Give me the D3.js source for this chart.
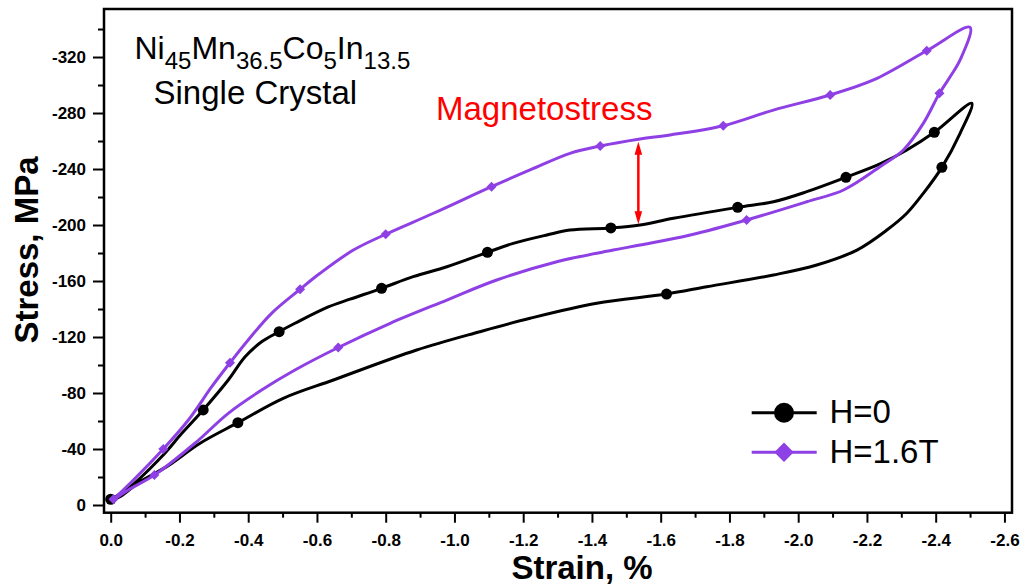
<!DOCTYPE html>
<html>
<head>
<meta charset="utf-8">
<script src="https://cdn.jsdelivr.net/npm/d3@7"></script>
<style>
  body { margin: 0; background: #fff; }
  svg { display: block; font-family: "Liberation Sans", Arial, sans-serif; }
</style>
</head>
<body>
<div id="chart"></div>
<script>
"use strict";

// H=0 loop: loading branch then unloading branch
const h0Strain = [0.00, -0.051, -0.148, -0.207, -0.269, -0.342, -0.391, -0.439, -0.490, -0.536, -0.633, -0.696,
  -0.788, -0.880, -0.978, -1.096, -1.171, -1.269, -1.336, -1.455, -1.540, -1.637, -1.824, -1.928, -2.025,
  -2.139, -2.238, -2.316, -2.396, -2.505,
  -2.471, -2.418, -2.364, -2.316, -2.258, -2.171, -2.054, -1.928, -1.734, -1.617, -1.414, -1.220, -1.074,
  -0.890, -0.648, -0.502, -0.370, -0.260, -0.163, -0.085, -0.027, -0.003];
const h0Stress = [-4.1, -11.9, -34.5, -51.2, -67.9, -89.3, -105.9, -116.6, -123.8, -129.8, -141.5, -147.0,
  -154.8, -163.1, -170.2, -180.5, -186.9, -192.9, -196.4, -197.9, -200.0, -204.8, -212.6, -216.6, -223.8,
  -234.1, -243.6, -253.6, -266.2, -287.0,
  -265.5, -241.2, -222.6, -208.4, -196.4, -182.1, -171.4, -164.3, -155.9, -150.7, -144.1, -133.4, -123.8,
  -110.7, -89.3, -76.2, -58.8, -44.1, -27.4, -16.6, -5.9, -3.6];

// H=1.6T loop
const h16Strain = [-0.008, -0.061, -0.153, -0.226, -0.294, -0.347, -0.400, -0.468, -0.551, -0.609, -0.706,
  -0.800, -0.939, -1.108, -1.220, -1.336, -1.424, -1.540, -1.627, -1.782, -1.928, -2.093, -2.219, -2.374, -2.500,
  -2.471, -2.442, -2.411, -2.364, -2.306, -2.238, -2.132, -2.025, -1.850, -1.686, -1.540, -1.462, -1.298,
  -1.123, -0.978, -0.813, -0.662, -0.536, -0.439, -0.342, -0.245, -0.127, -0.051, -0.008];
const h16Stress = [-4.1, -16.6, -40.0, -60.7, -84.5, -101.6, -117.9, -136.9, -154.1, -165.5, -182.1,
  -193.4, -208.4, -227.4, -239.3, -251.2, -256.4, -261.4, -264.3, -270.9, -282.1, -292.9, -303.6, -324.5, -341.2,
  -317.9, -305.9, -294.1, -272.6, -253.6, -241.6, -225.0, -216.6, -203.6, -192.9, -185.7, -182.1, -173.8,
  -160.7, -146.4, -129.8, -112.5, -96.4, -82.1, -65.5, -44.1, -21.4, -10.7, -3.6];

// symbol positions
const h0MarkStrain = [0.00, -0.269, -0.490, -0.788, -1.096, -1.455, -1.824, -2.139, -2.396, -2.418, -1.617, -0.370];
const h0MarkStress = [-4.1, -67.9, -123.8, -154.8, -180.5, -197.9, -212.6, -234.1, -266.2, -241.2, -150.7, -58.8];
const h16MarkStrain = [-0.008, -0.153, -0.347, -0.551, -0.800, -1.108, -1.424, -1.782, -2.093, -2.374,
  -2.411, -1.850, -0.662, -0.127];
const h16MarkStress = [-4.1, -40.0, -101.6, -154.1, -193.4, -227.4, -256.4, -270.9, -292.9, -324.5,
  -294.1, -203.6, -112.5, -21.4];

// magnetostress arrow
const arrowStrain = -1.535;
const arrowStress = [-200.5, -259.5];

// ticks
const xTicks = [0, -0.2, -0.4, -0.6, -0.8, -1.0, -1.2, -1.4, -1.6, -1.8, -2.0, -2.2, -2.4, -2.6];
const xMinor = [-0.1, -0.3, -0.5, -0.7, -0.9, -1.1, -1.3, -1.5, -1.7, -1.9, -2.1, -2.3, -2.5];
const yTicks = [0, -40, -80, -120, -160, -200, -240, -280, -320];
const yMinor = [-20, -60, -100, -140, -180, -220, -260, -300, -340];

const seriesNames = ["H=0", "H=1.6T"];
const black = "#000", purple = "#8f40e4";

const W = 1027, H = 586;
const svg = d3.select("#chart").append("svg").attr("width", W).attr("height", H);

const x = d3.scaleLinear().domain([0.0195, -2.622]).range([104, 1012]);
const y = d3.scaleLinear().domain([5.5, -354.3]).range([512.7, 9]);

// axes
svg.append("g").attr("transform", "translate(0,512.7)")
  .call(d3.axisBottom(x).tickValues(xTicks).tickSize(10).tickPadding(11.6)
    .tickFormat(d => d.toFixed(1)));
svg.append("g").attr("transform", "translate(0,512.7)")
  .call(d3.axisBottom(x).tickValues(xMinor).tickSize(5).tickFormat(""));
svg.append("g").attr("transform", "translate(104,0)")
  .call(d3.axisLeft(y).tickValues(yTicks).tickSize(11).tickPadding(7)
    .tickFormat(d => String(d)));
svg.append("g").attr("transform", "translate(104,0)")
  .call(d3.axisLeft(y).tickValues(yMinor).tickSize(6).tickFormat(""));

svg.selectAll(".domain").remove();
svg.selectAll(".tick line").attr("stroke", "#000").attr("stroke-width", 2);
svg.selectAll(".tick text").attr("fill", "#000")
  .style("font-family", "'Liberation Sans', Arial, sans-serif")
  .style("font-size", "17px").style("font-weight", "bold");

// frame
svg.append("rect")
  .attr("x", 104).attr("y", 9)
  .attr("width", 1012 - 104).attr("height", 512.7 - 9)
  .attr("fill", "none").attr("stroke", "#000").attr("stroke-width", 2.5);

// axis titles
svg.append("text").attr("x", 582).attr("y", 579).attr("text-anchor", "middle")
  .style("font-size", "33px").style("font-weight", "bold").text("Strain, %");
svg.append("text").attr("transform", "translate(37.5,250) rotate(-90)").attr("text-anchor", "middle")
  .style("font-size", "33px").style("font-weight", "bold").text("Stress, MPa");

// curves
const line = d3.line().x(d => x(d[0])).y(d => y(d[1])).curve(d3.curveCatmullRom.alpha(0.5));
const h0Pts = h0Strain.map((s, i) => [s, h0Stress[i]]);
const h16Pts = h16Strain.map((s, i) => [s, h16Stress[i]]);

svg.append("path").datum(h0Pts).attr("d", line)
  .attr("fill", "none").attr("stroke", black).attr("stroke-width", 3).attr("stroke-linejoin", "round");
svg.append("g").selectAll("circle")
  .data(h0MarkStrain.map((s, i) => [s, h0MarkStress[i]]))
  .join("circle")
    .attr("cx", d => x(d[0])).attr("cy", d => y(d[1])).attr("r", 5.5).attr("fill", black);

svg.append("path").datum(h16Pts).attr("d", line)
  .attr("fill", "none").attr("stroke", purple).attr("stroke-width", 3).attr("stroke-linejoin", "round");
const diamond = d3.symbol().type(d3.symbolDiamond2).size(64);
svg.append("g").selectAll("path")
  .data(h16MarkStrain.map((s, i) => [s, h16MarkStress[i]]))
  .join("path")
    .attr("transform", d => "translate(" + x(d[0]) + "," + y(d[1]) + ")")
    .attr("d", diamond).attr("fill", purple);

// magnetostress arrow
const ax = x(arrowStrain), ay1 = y(arrowStress[0]), ay2 = y(arrowStress[1]);
svg.append("line").attr("x1", ax).attr("x2", ax).attr("y1", ay1 - 8).attr("y2", ay2 + 8)
  .attr("stroke", "red").attr("stroke-width", 2.5);
svg.append("path")
  .attr("d", `M${ax},${ay2} L${ax - 3.8},${ay2 + 13} L${ax + 3.8},${ay2 + 13} Z M${ax},${ay1} L${ax - 3.8},${ay1 - 13} L${ax + 3.8},${ay1 - 13} Z`)
  .attr("fill", "red");
svg.append("text").attr("x", 436).attr("y", 120).attr("fill", "red")
  .style("font-size", "33px").text("Magnetostress");

// composition label
const title = svg.append("text").attr("x", 134.5).attr("y", 59.3).style("font-size", "32px");
[["Ni", false], ["45", true], ["Mn", false], ["36.5", true], ["Co", false], ["5", true], ["In", false], ["13.5", true]]
  .forEach(function(p, i, arr) {
    const prevSub = i > 0 && arr[i - 1][1];
    const t = title.append("tspan").text(p[0]);
    if (p[1]) t.attr("dy", 10).style("font-size", "24px");
    else if (prevSub) t.attr("dy", -10);
  });
svg.append("text").attr("x", 153.5).attr("y", 104).style("font-size", "33px").text("Single Crystal");

// legend
const legend = svg.append("g");
[0, 1].forEach(function(i) {
  const ly = i === 0 ? 412.7 : 452.3;
  const col = i === 0 ? black : purple;
  legend.append("line").attr("x1", 751.7).attr("x2", 816.7).attr("y1", ly).attr("y2", ly)
    .attr("stroke", col).attr("stroke-width", 3);
  if (i === 0) {
    legend.append("circle").attr("cx", 784).attr("cy", ly).attr("r", 10).attr("fill", col);
  } else {
    legend.append("path").attr("transform", "translate(784," + ly + ")")
      .attr("d", d3.symbol().type(d3.symbolDiamond2).size(240)).attr("fill", col);
  }
  legend.append("text").attr("x", 829.5).attr("y", i === 0 ? 422.7 : 462.7)
    .style("font-size", "33px").text(seriesNames[i]);
});
</script>
</body>
</html>
